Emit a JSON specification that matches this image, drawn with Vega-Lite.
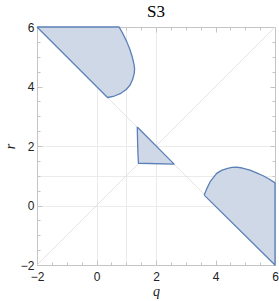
{
  "$schema": "https://vega.github.io/schema/vega-lite/v6.json",
  "width": 238,
  "height": 238,
  "autosize": "none",
  "padding": {"left": 37, "top": 27, "right": 4, "bottom": 36},
  "background": "white",
  "title": {"text": "S3", "font": "Liberation Serif", "fontSize": 17, "fontWeight": "normal", "color": "#000", "offset": 0},
  "config": {
    "view": {"stroke": "#c4c4c4", "strokeWidth": 1},
    "axis": {
      "domain": false,
      "format": "d",
      "labelFont": "Liberation Sans",
      "labelFontSize": 12,
      "labelColor": "#222",
      "labelFlush": false,
      "labelOverlap": false,
      "tickColor": "#c4c4c4",
      "tickWidth": 1,
      "titleFont": "Liberation Serif",
      "titleFontStyle": "italic",
      "titleFontWeight": "normal",
      "titleFontSize": 14,
      "titleColor": "#222",
      "gridColor": "#ebebeb",
      "gridWidth": 1
    }
  },
  "datasets": {
    "diag": [
      {"line": "a", "q": -2, "r": -2},
      {"line": "a", "q": 6, "r": 6},
      {"line": "b", "q": -2, "r": 6},
      {"line": "b", "q": 6, "r": -2}
    ],
    "regions": [
      {"region": "A", "i": 0, "q": -2, "r": 6},
      {"region": "A", "i": 1, "q": 0.76, "r": 6},
      {"region": "A", "i": 2, "q": 0.9, "r": 5.75},
      {"region": "A", "i": 3, "q": 1.02, "r": 5.5},
      {"region": "A", "i": 4, "q": 1.12, "r": 5.25},
      {"region": "A", "i": 5, "q": 1.2, "r": 5.0},
      {"region": "A", "i": 6, "q": 1.26, "r": 4.75},
      {"region": "A", "i": 7, "q": 1.28, "r": 4.6},
      {"region": "A", "i": 8, "q": 1.27, "r": 4.45},
      {"region": "A", "i": 9, "q": 1.22, "r": 4.25},
      {"region": "A", "i": 10, "q": 1.13, "r": 4.05},
      {"region": "A", "i": 11, "q": 1.0, "r": 3.9},
      {"region": "A", "i": 12, "q": 0.82, "r": 3.77},
      {"region": "A", "i": 13, "q": 0.6, "r": 3.68},
      {"region": "A", "i": 14, "q": 0.37, "r": 3.63},
      {"region": "A", "i": 15, "q": -2, "r": 6},
      {"region": "B", "i": 0, "q": 1.37, "r": 2.64},
      {"region": "B", "i": 1, "q": 1.38, "r": 2.2},
      {"region": "B", "i": 2, "q": 1.39, "r": 1.8},
      {"region": "B", "i": 3, "q": 1.41, "r": 1.42},
      {"region": "B", "i": 4, "q": 2.61, "r": 1.39},
      {"region": "B", "i": 5, "q": 1.37, "r": 2.64},
      {"region": "C", "i": 0, "q": 3.62, "r": 0.35},
      {"region": "C", "i": 1, "q": 3.7, "r": 0.55},
      {"region": "C", "i": 2, "q": 3.82, "r": 0.8},
      {"region": "C", "i": 3, "q": 4.04, "r": 1.08},
      {"region": "C", "i": 4, "q": 4.2, "r": 1.18},
      {"region": "C", "i": 5, "q": 4.38, "r": 1.24},
      {"region": "C", "i": 6, "q": 4.55, "r": 1.28},
      {"region": "C", "i": 7, "q": 4.71, "r": 1.29},
      {"region": "C", "i": 8, "q": 4.9, "r": 1.26},
      {"region": "C", "i": 9, "q": 5.16, "r": 1.19},
      {"region": "C", "i": 10, "q": 5.4, "r": 1.09},
      {"region": "C", "i": 11, "q": 5.6, "r": 1.0},
      {"region": "C", "i": 12, "q": 5.8, "r": 0.89},
      {"region": "C", "i": 13, "q": 6.0, "r": 0.76},
      {"region": "C", "i": 14, "q": 6.0, "r": -2},
      {"region": "C", "i": 15, "q": 3.62, "r": 0.35}
    ]
  },
  "layer": [
    {
      "data": {"name": "diag"},
      "mark": {"type": "line", "stroke": "#dcdcdc", "strokeWidth": 0.8},
      "encoding": {
        "x": {
          "field": "q", "type": "quantitative",
          "scale": {"domain": [-2, 6], "nice": false, "zero": false},
          "axis": {
            "orient": "bottom", "title": "q",
            "titleBaseline": "alphabetic", "titleY": 30,
            "values": [-2, -1.5, -1, -0.5, 0, 0.5, 1, 1.5, 2, 2.5, 3, 3.5, 4, 4.5, 5, 5.5, 6],
            "labelExpr": "datum.value % 2 === 0 ? datum.label : ''",
            "tickSize": {"condition": {"test": "datum.value % 2 === 0", "value": -5}, "value": -3},
            "labelPadding": 11,
            "grid": true,
            "gridOpacity": {"condition": {"test": "datum.value >= 0 && datum.value <= 2 && datum.value % 1 === 0", "value": 1}, "value": 0}
          }
        },
        "y": {
          "field": "r", "type": "quantitative",
          "scale": {"domain": [-2, 6], "nice": false, "zero": false},
          "axis": {
            "orient": "left", "title": "r",
            "titleBaseline": "alphabetic", "titleX": -23,
            "values": [-2, -1.5, -1, -0.5, 0, 0.5, 1, 1.5, 2, 2.5, 3, 3.5, 4, 4.5, 5, 5.5, 6],
            "labelExpr": "datum.value % 2 === 0 ? datum.label : ''",
            "tickSize": {"condition": {"test": "datum.value % 2 === 0", "value": -5}, "value": -3},
            "labelPadding": 8,
            "grid": true,
            "gridOpacity": {"condition": {"test": "datum.value >= 0 && datum.value <= 2 && datum.value % 1 === 0", "value": 1}, "value": 0}
          }
        },
        "detail": {"field": "line"}
      }
    },
    {
      "data": {"name": "regions"},
      "mark": {"type": "line", "fill": "#cfd8e7", "stroke": "#5b80b8", "strokeWidth": 1.3, "strokeJoin": "round"},
      "encoding": {
        "x": {
          "field": "q", "type": "quantitative",
          "axis": {
            "orient": "top", "title": null, "labels": false, "grid": false,
            "values": [-2, -1.5, -1, -0.5, 0, 0.5, 1, 1.5, 2, 2.5, 3, 3.5, 4, 4.5, 5, 5.5, 6],
            "tickSize": {"condition": {"test": "datum.value % 2 === 0", "value": -5}, "value": -3}
          }
        },
        "y": {
          "field": "r", "type": "quantitative",
          "axis": {
            "orient": "right", "title": null, "labels": false, "grid": false,
            "values": [-2, -1.5, -1, -0.5, 0, 0.5, 1, 1.5, 2, 2.5, 3, 3.5, 4, 4.5, 5, 5.5, 6],
            "tickSize": {"condition": {"test": "datum.value % 2 === 0", "value": -5}, "value": -3}
          }
        },
        "detail": {"field": "region"},
        "order": {"field": "i", "type": "quantitative"}
      }
    }
  ],
  "resolve": {"axis": {"x": "independent", "y": "independent"}}
}
